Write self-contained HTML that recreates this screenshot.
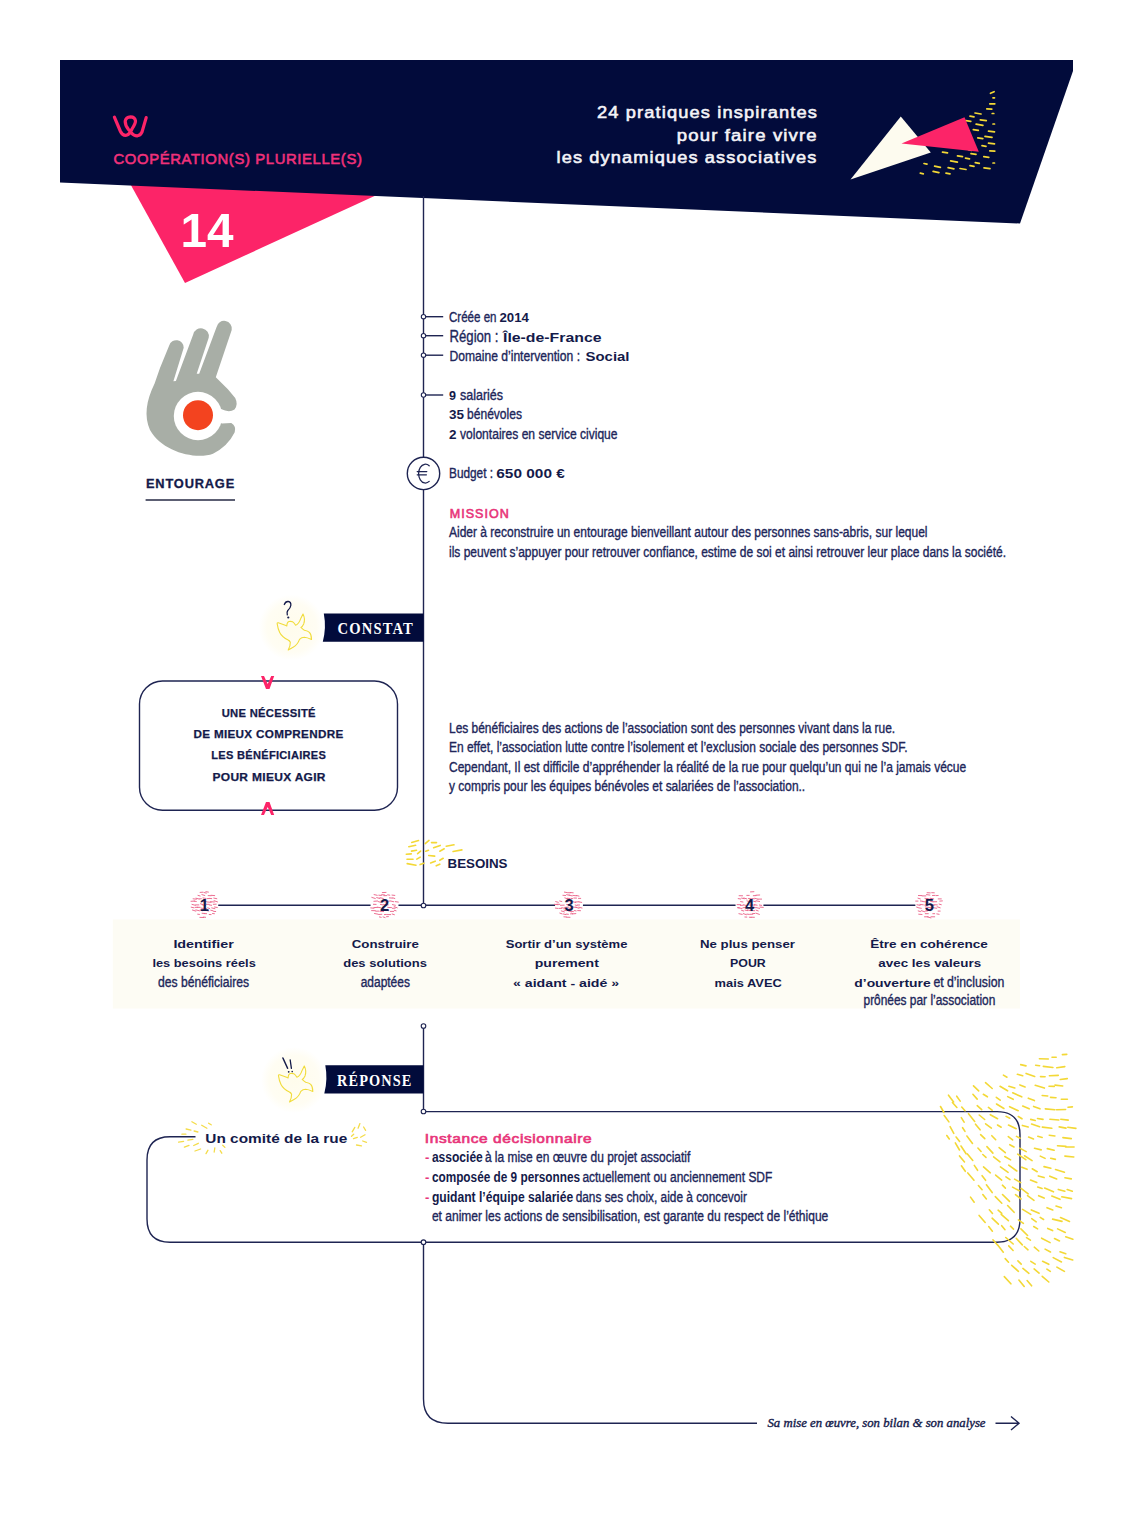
<!DOCTYPE html>
<html><head><meta charset="utf-8">
<style>
html,body{margin:0;padding:0;}
body{width:1133px;height:1536px;position:relative;overflow:hidden;background:#fff;}
svg{position:absolute;left:0;top:0;}
</style></head>
<body>
<svg width="1133" height="1536" viewBox="0 0 1133 1536">
<polygon points="127,178 392,188 185,283" fill="#fc2468"/>
<polygon points="60,60 1073,60 1073,71 1020,223.5 60,182.6" fill="#020b3b"/>
<g stroke="#f3d836" stroke-width="1.7" stroke-linecap="round"><line x1="990.5" y1="93.3" x2="994.1" y2="91.7"/><line x1="993.0" y1="97.8" x2="994.5" y2="97.8"/><line x1="989.8" y1="103.8" x2="994.8" y2="103.8"/><line x1="986.8" y1="108.8" x2="991.8" y2="109.2"/><line x1="992.2" y1="113.5" x2="993.8" y2="113.5"/><line x1="975.0" y1="113.0" x2="981.0" y2="114.0"/><line x1="970.0" y1="116.2" x2="974.0" y2="116.8"/><line x1="980.3" y1="119.9" x2="986.3" y2="120.7"/><line x1="965.8" y1="120.7" x2="970.8" y2="121.3"/><line x1="976.1" y1="124.2" x2="982.9" y2="125.4"/><line x1="993.0" y1="124.0" x2="994.5" y2="124.0"/><line x1="973.3" y1="129.6" x2="978.3" y2="130.4"/><line x1="988.5" y1="131.1" x2="994.5" y2="131.9"/><line x1="985.0" y1="136.3" x2="992.0" y2="137.3"/><line x1="977.8" y1="137.9" x2="982.8" y2="138.7"/><line x1="988.5" y1="143.1" x2="994.5" y2="143.9"/><line x1="989.8" y1="150.8" x2="994.8" y2="151.2"/><line x1="983.8" y1="156.7" x2="988.8" y2="157.3"/><line x1="971.0" y1="153.6" x2="976.0" y2="154.4"/><line x1="957.5" y1="155.9" x2="962.5" y2="156.7"/><line x1="942.5" y1="152.1" x2="947.5" y2="152.9"/><line x1="965.5" y1="158.2" x2="969.5" y2="158.8"/><line x1="975.3" y1="162.7" x2="979.3" y2="163.3"/><line x1="993.0" y1="163.0" x2="994.5" y2="163.0"/><line x1="950.6" y1="160.8" x2="957.4" y2="162.2"/><line x1="924.0" y1="163.5" x2="927.0" y2="164.1"/><line x1="934.6" y1="166.2" x2="940.4" y2="167.4"/><line x1="948.1" y1="167.7" x2="953.9" y2="168.9"/><line x1="960.0" y1="168.5" x2="966.0" y2="169.5"/><line x1="970.0" y1="165.7" x2="974.0" y2="166.3"/><line x1="984.0" y1="167.9" x2="990.0" y2="168.7"/><line x1="920.3" y1="173.2" x2="923.3" y2="173.8"/><line x1="933.1" y1="171.4" x2="938.9" y2="172.6"/><line x1="946.0" y1="173.2" x2="950.0" y2="173.8"/><line x1="982.0" y1="145.7" x2="986.0" y2="146.3"/><line x1="968.5" y1="149.7" x2="971.5" y2="150.3"/></g>
<polygon points="900.8,116.5 850.5,179.5 930.8,152.5" fill="#fdfbef"/>
<polygon points="901.5,143.5 964.5,117.3 978.8,151.8" fill="#fc2468"/>
<path d="M114.4,117.2 L120.5,131.5 Q122.5,135.8 126.5,135.2 Q129.5,134.5 132,129 Q135.5,123.5 135.5,121 Q135,116.8 130.5,116.8 Q126,117 125.2,121 Q125,125 128.5,129.5 L131.5,133 Q134,136 137.5,135.8 Q140.5,135.2 142,132 L146.2,117.6" fill="none" stroke="#fc2468" stroke-width="3.2" stroke-linecap="round" stroke-linejoin="round"/>
<g stroke="#1e2452" stroke-width="1.4" fill="none"><line x1="423.5" y1="196" x2="423.5" y2="457.2"/><line x1="423.5" y1="489.6" x2="423.5" y2="905.7"/><line x1="423.5" y1="316.7" x2="443.2" y2="316.7"/><line x1="423.5" y1="335.7" x2="443.2" y2="335.7"/><line x1="423.5" y1="355.2" x2="443.2" y2="355.2"/><line x1="423.5" y1="395" x2="443.2" y2="395"/><circle cx="423.5" cy="473.4" r="16.2"/></g>
<path d="M429.2,465.8 A6.8,9.4 0 1 0 429.2,481.4 M417.2,471.6 L426.8,471.6 M417.2,474.8 L426.4,474.8" fill="none" stroke="#1e2452" stroke-width="1.25" stroke-linecap="round"/>
<g stroke="#1e2452" stroke-width="1.1" fill="#fff"><circle cx="423.5" cy="316.7" r="2.2"/><circle cx="423.5" cy="335.7" r="2.2"/><circle cx="423.5" cy="355.2" r="2.2"/><circle cx="423.5" cy="395" r="2.2"/></g>
<path d="M154.6,383.4 L160,368 L169.2,345.5 A7.4,7.4 0 0 1 183.7,347.7 L173.4,381.2 L175.9,381 L193.2,334.6 A7.7,7.7 0 0 1 208.7,337.8 L196.7,373.8 L199.2,373.8 L216.5,327.2 A7.7,7.7 0 0 1 231.7,330 L215.8,377.3 L227.9,389.2 L235.2,398 Q238.5,404.5 234.5,409.5 Q229,413 221,409 L198,414 L222,423.4 L231.3,422.9 Q236.5,426 234.7,432.2 Q228,446 213,453.7 C196,460 162,452 150,430 C144,416 146,401 154.6,383.4 Z" fill="#a8aea6"/>
<circle cx="198" cy="416" r="24.2" fill="#fff"/>
<circle cx="198" cy="415.2" r="15" fill="#f3431f"/>
<line x1="145.6" y1="500" x2="235" y2="500" stroke="#262a44" stroke-width="1.4"/>
<defs><radialGradient id="gl"><stop offset="0" stop-color="#fffcec"/><stop offset="0.75" stop-color="#fffdf3"/><stop offset="1" stop-color="#ffffff"/></radialGradient></defs>
<circle cx="291.7" cy="627.5" r="33" fill="url(#gl)"/>
<path d="M323.8,613.6 L423.5,613.6 L423.5,641.7 L322.8,641.7 Q326.5,627.6 323.8,613.6 Z" fill="#020b3b"/>
<path d="M277.2,623.9 Q277,622.5 278.3,622.8 L283.2,624.6 Q285.5,625.6 286.8,626 Q287,622 289,621.5 Q292.5,620.8 294,623 L295.6,625.3 Q299,624 300.9,618.2 L303,614 Q305.5,619 303.7,623.9 Q302.5,626.5 300.9,627.4 Q303,629.5 304.4,630.3 Q308,631 309.4,632.4 Q311.5,634.5 311.5,639.4 Q307,637.5 304.4,637.3 Q301.5,637.3 299.5,639.4 Q297.5,645 293.1,647.2 L288.2,650 Q290.5,646 290.3,642.3 Q289.5,640.5 288.2,640.1 Q282,637 279.7,632.4 Q277.8,628.5 277.2,623.9 Z" fill="none" stroke="#f1dc3c" stroke-width="1.1" stroke-linejoin="round"/>
<path d="M284.3,604.5 Q285.5,601.3 288.2,601.5 Q291.3,602 290.8,605.5 Q290.3,608.5 287.8,610.5 Q286.6,612 287.3,614.8" fill="none" stroke="#141a4a" stroke-width="1.3" stroke-linecap="round"/><circle cx="288.3" cy="617.5" r="1.1" fill="#141a4a"/>
<rect x="139.5" y="681" width="258" height="129.3" rx="23" ry="23" fill="none" stroke="#1e2452" stroke-width="1.4"/>
<polygon points="261,676 264,676 267.7,684 271.2,676 274.2,676 269.5,689 266,689" fill="#fc2468"/>
<polygon points="261,815 264,815 267.7,807 271.2,815 274.2,815 269.5,802 266,802" fill="#fc2468"/>
<g stroke="#f3d836" stroke-width="1.6" stroke-linecap="round"><line x1="411.7" y1="842.4" x2="418.5" y2="840.6"/><line x1="408.8" y1="846.7" x2="415.6" y2="845.3"/><line x1="411.5" y1="851.1" x2="416.5" y2="850.3"/><line x1="406.3" y1="854.3" x2="411.3" y2="853.9"/><line x1="407.0" y1="859.3" x2="413.0" y2="859.3"/><line x1="407.2" y1="863.6" x2="416.0" y2="865.2"/><line x1="417.6" y1="853.7" x2="420.6" y2="851.1"/><line x1="416.8" y1="859.1" x2="420.2" y2="857.1"/><line x1="425.2" y1="843.6" x2="429.0" y2="840.4"/><line x1="425.7" y1="851.2" x2="428.5" y2="850.2"/><line x1="420.1" y1="864.6" x2="423.9" y2="863.2"/><line x1="431.5" y1="842.6" x2="436.5" y2="842.6"/><line x1="433.6" y1="847.8" x2="440.2" y2="845.4"/><line x1="428.7" y1="855.5" x2="434.7" y2="856.1"/><line x1="430.6" y1="863.0" x2="435.2" y2="861.2"/><line x1="436.2" y1="865.8" x2="439.8" y2="864.2"/><line x1="439.8" y1="851.2" x2="444.2" y2="848.8"/><line x1="439.8" y1="860.3" x2="443.2" y2="858.3"/><line x1="446.2" y1="846.2" x2="454.0" y2="844.8"/><line x1="453.1" y1="851.5" x2="461.9" y2="849.9"/></g>
<rect x="112.8" y="919.5" width="907.2" height="89" fill="#fdfcf4"/>
<line x1="204.3" y1="905.2" x2="929.3" y2="905.2" stroke="#1e2452" stroke-width="1.4"/>
<circle cx="423.5" cy="905.5" r="2.3" fill="#fff" stroke="#1e2452" stroke-width="1.1"/>
<circle cx="204.3" cy="904.7" r="14" fill="#fff"/>
<g stroke="#ea5f86" stroke-width="0.9" stroke-linecap="round"><line x1="200.1" y1="892.4" x2="202.8" y2="892.2"/><line x1="203.9" y1="892.5" x2="206.3" y2="893.1"/><line x1="205.9" y1="891.7" x2="208.4" y2="892.1"/><line x1="198.0" y1="895.4" x2="200.1" y2="896.0"/><line x1="201.9" y1="894.6" x2="204.8" y2="895.5"/><line x1="208.2" y1="895.6" x2="211.0" y2="895.7"/><line x1="211.2" y1="895.3" x2="214.7" y2="895.6"/><line x1="193.1" y1="898.8" x2="196.4" y2="899.2"/><line x1="196.0" y1="898.2" x2="199.0" y2="899.0"/><line x1="199.3" y1="898.9" x2="201.3" y2="898.7"/><line x1="203.0" y1="897.9" x2="206.0" y2="898.5"/><line x1="207.2" y1="898.6" x2="209.1" y2="898.5"/><line x1="209.4" y1="898.4" x2="211.7" y2="898.6"/><line x1="213.8" y1="898.1" x2="216.8" y2="898.7"/><line x1="191.0" y1="901.3" x2="194.5" y2="901.1"/><line x1="194.2" y1="901.1" x2="196.3" y2="901.5"/><line x1="201.2" y1="901.5" x2="203.7" y2="901.8"/><line x1="204.4" y1="901.7" x2="206.5" y2="901.7"/><line x1="207.4" y1="902.0" x2="211.1" y2="902.3"/><line x1="210.5" y1="901.7" x2="214.3" y2="902.0"/><line x1="214.1" y1="900.7" x2="217.5" y2="901.9"/><line x1="192.0" y1="904.4" x2="195.4" y2="905.3"/><line x1="195.6" y1="904.9" x2="198.9" y2="904.9"/><line x1="200.5" y1="903.8" x2="203.0" y2="904.5"/><line x1="202.1" y1="904.8" x2="205.3" y2="905.5"/><line x1="206.4" y1="904.3" x2="209.1" y2="904.3"/><line x1="209.3" y1="904.9" x2="211.6" y2="905.3"/><line x1="213.3" y1="904.3" x2="216.2" y2="904.2"/><line x1="191.2" y1="907.2" x2="193.9" y2="907.8"/><line x1="195.1" y1="907.4" x2="197.8" y2="907.2"/><line x1="197.1" y1="907.4" x2="200.1" y2="907.3"/><line x1="201.1" y1="908.1" x2="204.4" y2="908.6"/><line x1="204.2" y1="908.0" x2="206.6" y2="908.7"/><line x1="207.7" y1="907.9" x2="209.7" y2="908.5"/><line x1="211.7" y1="907.9" x2="214.9" y2="908.7"/><line x1="214.5" y1="907.0" x2="217.3" y2="907.5"/><line x1="192.4" y1="910.0" x2="195.8" y2="911.1"/><line x1="195.9" y1="909.9" x2="199.5" y2="910.8"/><line x1="200.2" y1="910.0" x2="202.3" y2="910.7"/><line x1="205.3" y1="910.3" x2="208.8" y2="911.0"/><line x1="210.7" y1="910.2" x2="213.1" y2="910.8"/><line x1="213.7" y1="911.4" x2="215.7" y2="911.5"/><line x1="197.7" y1="914.2" x2="199.5" y2="914.4"/><line x1="202.1" y1="913.3" x2="204.8" y2="913.5"/><line x1="204.3" y1="913.6" x2="206.6" y2="913.7"/><line x1="209.2" y1="914.5" x2="211.1" y2="914.6"/><line x1="212.5" y1="913.5" x2="214.4" y2="913.7"/><line x1="199.9" y1="917.4" x2="203.6" y2="917.5"/><line x1="203.3" y1="917.1" x2="205.6" y2="917.3"/></g>
<circle cx="384.5" cy="904.7" r="14" fill="#fff"/>
<g stroke="#ea5f86" stroke-width="0.9" stroke-linecap="round"><line x1="382.3" y1="892.6" x2="386.0" y2="892.4"/><line x1="374.1" y1="894.6" x2="377.2" y2="895.3"/><line x1="378.8" y1="895.2" x2="381.4" y2="895.4"/><line x1="381.7" y1="894.7" x2="384.5" y2="894.9"/><line x1="383.9" y1="895.7" x2="386.8" y2="895.6"/><line x1="387.7" y1="894.8" x2="389.8" y2="895.2"/><line x1="392.0" y1="895.1" x2="394.8" y2="895.4"/><line x1="371.8" y1="897.4" x2="375.3" y2="898.5"/><line x1="376.7" y1="897.6" x2="379.9" y2="898.5"/><line x1="380.0" y1="897.7" x2="383.3" y2="898.5"/><line x1="389.4" y1="897.9" x2="392.6" y2="898.1"/><line x1="393.0" y1="897.9" x2="394.8" y2="898.5"/><line x1="373.9" y1="901.3" x2="377.5" y2="901.0"/><line x1="378.2" y1="901.6" x2="381.1" y2="902.4"/><line x1="380.9" y1="901.1" x2="383.8" y2="901.5"/><line x1="384.4" y1="901.7" x2="387.4" y2="902.6"/><line x1="388.5" y1="901.1" x2="390.4" y2="901.0"/><line x1="391.0" y1="901.1" x2="393.6" y2="901.7"/><line x1="395.2" y1="901.6" x2="398.3" y2="902.1"/><line x1="373.4" y1="904.3" x2="376.1" y2="904.4"/><line x1="380.4" y1="904.4" x2="382.7" y2="904.9"/><line x1="383.5" y1="904.4" x2="387.1" y2="905.6"/><line x1="386.0" y1="904.4" x2="388.3" y2="904.8"/><line x1="392.4" y1="904.6" x2="395.4" y2="905.3"/><line x1="370.7" y1="907.9" x2="373.9" y2="908.2"/><line x1="373.9" y1="907.6" x2="377.3" y2="907.4"/><line x1="377.3" y1="907.2" x2="380.5" y2="907.7"/><line x1="382.2" y1="908.3" x2="384.0" y2="908.3"/><line x1="387.8" y1="907.4" x2="391.5" y2="907.6"/><line x1="392.4" y1="908.3" x2="395.2" y2="908.2"/><line x1="394.2" y1="906.7" x2="397.2" y2="907.8"/><line x1="371.6" y1="910.6" x2="375.4" y2="910.7"/><line x1="375.8" y1="911.2" x2="378.7" y2="911.1"/><line x1="379.9" y1="911.3" x2="383.6" y2="911.5"/><line x1="386.8" y1="910.4" x2="388.9" y2="910.7"/><line x1="390.4" y1="911.4" x2="393.7" y2="911.4"/><line x1="394.3" y1="910.3" x2="396.1" y2="910.8"/><line x1="374.5" y1="913.5" x2="378.1" y2="914.2"/><line x1="378.7" y1="914.5" x2="381.8" y2="914.3"/><line x1="384.4" y1="914.6" x2="386.3" y2="914.5"/><line x1="387.1" y1="914.6" x2="390.7" y2="914.6"/><line x1="392.2" y1="914.0" x2="394.4" y2="914.7"/><line x1="379.4" y1="916.9" x2="381.2" y2="917.3"/><line x1="383.1" y1="916.9" x2="385.1" y2="917.6"/><line x1="386.5" y1="916.7" x2="388.4" y2="916.6"/></g>
<circle cx="569" cy="904.7" r="14" fill="#fff"/>
<g stroke="#ea5f86" stroke-width="0.9" stroke-linecap="round"><line x1="564.4" y1="892.1" x2="567.2" y2="892.6"/><line x1="567.8" y1="892.7" x2="570.3" y2="892.8"/><line x1="570.2" y1="892.5" x2="573.2" y2="892.8"/><line x1="562.9" y1="895.3" x2="565.6" y2="895.5"/><line x1="566.6" y1="894.7" x2="569.5" y2="895.3"/><line x1="569.1" y1="895.0" x2="572.1" y2="895.9"/><line x1="572.8" y1="895.4" x2="576.5" y2="895.8"/><line x1="576.5" y1="895.5" x2="579.0" y2="896.1"/><line x1="564.8" y1="897.9" x2="567.8" y2="898.9"/><line x1="567.4" y1="898.3" x2="569.6" y2="898.5"/><line x1="570.8" y1="898.4" x2="572.7" y2="898.6"/><line x1="573.9" y1="898.0" x2="576.5" y2="898.1"/><line x1="578.5" y1="898.4" x2="580.7" y2="898.4"/><line x1="555.7" y1="901.6" x2="558.3" y2="902.3"/><line x1="559.7" y1="901.0" x2="561.8" y2="901.5"/><line x1="566.9" y1="901.6" x2="569.2" y2="901.6"/><line x1="573.1" y1="901.8" x2="575.8" y2="902.5"/><line x1="575.3" y1="902.0" x2="578.9" y2="901.8"/><line x1="579.0" y1="901.9" x2="581.7" y2="902.4"/><line x1="554.4" y1="904.3" x2="558.0" y2="904.7"/><line x1="556.9" y1="904.2" x2="559.8" y2="904.3"/><line x1="560.5" y1="905.3" x2="564.2" y2="905.1"/><line x1="566.7" y1="904.5" x2="569.6" y2="904.9"/><line x1="575.2" y1="905.0" x2="577.1" y2="905.5"/><line x1="577.4" y1="905.0" x2="579.6" y2="905.0"/><line x1="555.4" y1="908.1" x2="557.8" y2="908.4"/><line x1="558.9" y1="908.4" x2="561.6" y2="908.4"/><line x1="561.8" y1="907.7" x2="564.6" y2="908.3"/><line x1="564.7" y1="907.4" x2="568.4" y2="907.1"/><line x1="568.7" y1="908.1" x2="572.5" y2="908.7"/><line x1="573.2" y1="907.1" x2="576.7" y2="907.4"/><line x1="575.8" y1="907.2" x2="579.0" y2="908.3"/><line x1="578.8" y1="907.2" x2="582.0" y2="908.0"/><line x1="561.3" y1="910.9" x2="564.4" y2="911.9"/><line x1="564.0" y1="910.1" x2="566.2" y2="910.6"/><line x1="567.8" y1="910.7" x2="571.4" y2="911.9"/><line x1="571.2" y1="911.2" x2="573.4" y2="911.6"/><line x1="574.3" y1="910.6" x2="576.1" y2="910.9"/><line x1="577.7" y1="910.6" x2="580.5" y2="910.7"/><line x1="559.8" y1="913.1" x2="562.2" y2="913.9"/><line x1="563.4" y1="914.0" x2="565.8" y2="914.6"/><line x1="566.2" y1="914.1" x2="568.4" y2="914.3"/><line x1="570.5" y1="913.9" x2="572.6" y2="913.7"/><line x1="572.4" y1="913.9" x2="575.8" y2="913.6"/><line x1="563.9" y1="916.8" x2="566.4" y2="917.0"/><line x1="566.6" y1="917.2" x2="570.0" y2="917.3"/></g>
<circle cx="749.5" cy="904.7" r="14" fill="#fff"/>
<g stroke="#ea5f86" stroke-width="0.9" stroke-linecap="round"><line x1="750.5" y1="891.9" x2="753.9" y2="891.7"/><line x1="739.1" y1="895.7" x2="742.6" y2="895.8"/><line x1="746.8" y1="895.4" x2="749.2" y2="895.4"/><line x1="753.3" y1="895.7" x2="756.0" y2="895.6"/><line x1="756.0" y1="895.2" x2="759.7" y2="895.0"/><line x1="738.2" y1="898.6" x2="740.6" y2="899.0"/><line x1="741.6" y1="898.1" x2="744.2" y2="898.7"/><line x1="743.8" y1="898.0" x2="746.8" y2="898.9"/><line x1="748.5" y1="898.5" x2="750.7" y2="898.7"/><line x1="751.7" y1="898.6" x2="754.4" y2="898.8"/><line x1="754.9" y1="898.3" x2="757.9" y2="899.2"/><line x1="757.9" y1="899.1" x2="761.6" y2="899.1"/><line x1="740.6" y1="901.6" x2="743.0" y2="902.0"/><line x1="746.9" y1="900.9" x2="749.2" y2="901.5"/><line x1="749.6" y1="901.8" x2="752.0" y2="901.9"/><line x1="753.5" y1="901.2" x2="755.8" y2="901.8"/><line x1="756.1" y1="900.8" x2="759.6" y2="901.5"/><line x1="737.1" y1="904.6" x2="740.6" y2="904.7"/><line x1="740.4" y1="905.4" x2="743.3" y2="905.2"/><line x1="743.6" y1="904.8" x2="747.0" y2="905.7"/><line x1="748.8" y1="904.9" x2="751.1" y2="905.2"/><line x1="751.9" y1="904.9" x2="754.9" y2="905.2"/><line x1="754.4" y1="904.6" x2="757.1" y2="905.2"/><line x1="759.4" y1="905.0" x2="761.7" y2="905.4"/><line x1="737.4" y1="907.7" x2="739.3" y2="907.8"/><line x1="738.3" y1="907.8" x2="742.0" y2="908.5"/><line x1="743.0" y1="907.7" x2="745.2" y2="907.6"/><line x1="746.5" y1="907.5" x2="749.7" y2="907.6"/><line x1="749.5" y1="907.7" x2="752.7" y2="907.5"/><line x1="753.3" y1="906.9" x2="755.6" y2="907.7"/><line x1="756.3" y1="907.6" x2="759.6" y2="908.4"/><line x1="760.0" y1="907.1" x2="763.3" y2="907.4"/><line x1="741.5" y1="910.3" x2="743.7" y2="911.0"/><line x1="745.0" y1="910.1" x2="747.7" y2="910.6"/><line x1="747.5" y1="909.9" x2="751.0" y2="910.7"/><line x1="752.4" y1="910.6" x2="754.6" y2="910.7"/><line x1="756.1" y1="910.2" x2="758.2" y2="910.9"/><line x1="738.9" y1="913.7" x2="742.2" y2="914.4"/><line x1="743.3" y1="913.6" x2="746.4" y2="914.7"/><line x1="747.0" y1="914.1" x2="749.1" y2="914.4"/><line x1="749.9" y1="914.3" x2="752.8" y2="914.2"/><line x1="752.6" y1="913.6" x2="754.9" y2="913.5"/><line x1="756.0" y1="913.2" x2="759.4" y2="914.4"/><line x1="744.9" y1="917.0" x2="746.8" y2="917.1"/><line x1="749.3" y1="917.2" x2="751.2" y2="917.4"/><line x1="751.0" y1="917.2" x2="754.4" y2="917.3"/></g>
<circle cx="929.3" cy="904.7" r="14" fill="#fff"/>
<g stroke="#ea5f86" stroke-width="0.9" stroke-linecap="round"><line x1="927.1" y1="892.7" x2="930.3" y2="892.9"/><line x1="931.7" y1="892.7" x2="934.3" y2="892.8"/><line x1="918.4" y1="895.5" x2="921.8" y2="895.6"/><line x1="922.2" y1="895.9" x2="925.9" y2="895.9"/><line x1="926.5" y1="894.6" x2="929.9" y2="895.1"/><line x1="932.5" y1="895.5" x2="935.1" y2="895.4"/><line x1="936.1" y1="895.6" x2="938.2" y2="895.5"/><line x1="918.0" y1="898.2" x2="920.3" y2="898.9"/><line x1="924.9" y1="898.3" x2="928.1" y2="898.8"/><line x1="927.1" y1="898.8" x2="929.8" y2="899.2"/><line x1="930.3" y1="898.3" x2="933.7" y2="898.9"/><line x1="938.2" y1="898.9" x2="941.3" y2="898.9"/><line x1="915.7" y1="901.1" x2="918.0" y2="901.1"/><line x1="920.4" y1="901.0" x2="922.3" y2="901.2"/><line x1="922.6" y1="901.5" x2="924.8" y2="901.8"/><line x1="925.5" y1="901.9" x2="928.1" y2="902.3"/><line x1="930.7" y1="901.5" x2="932.9" y2="901.7"/><line x1="933.1" y1="901.8" x2="936.7" y2="901.7"/><line x1="939.8" y1="901.1" x2="942.4" y2="900.9"/><line x1="917.0" y1="904.7" x2="920.1" y2="905.4"/><line x1="919.9" y1="904.4" x2="923.3" y2="904.8"/><line x1="924.7" y1="905.1" x2="926.6" y2="905.0"/><line x1="927.7" y1="904.0" x2="930.2" y2="904.9"/><line x1="931.9" y1="905.1" x2="934.1" y2="905.4"/><line x1="933.7" y1="904.7" x2="937.3" y2="904.9"/><line x1="939.1" y1="904.1" x2="941.3" y2="904.7"/><line x1="916.6" y1="907.1" x2="918.4" y2="907.7"/><line x1="919.0" y1="907.9" x2="921.3" y2="908.3"/><line x1="925.3" y1="906.9" x2="929.1" y2="907.5"/><line x1="929.0" y1="907.6" x2="931.3" y2="907.8"/><line x1="933.0" y1="907.7" x2="936.7" y2="908.2"/><line x1="937.2" y1="906.8" x2="940.2" y2="907.8"/><line x1="918.2" y1="910.9" x2="920.5" y2="911.6"/><line x1="921.3" y1="910.7" x2="924.8" y2="911.8"/><line x1="925.4" y1="911.0" x2="927.5" y2="910.9"/><line x1="926.6" y1="910.1" x2="930.2" y2="910.7"/><line x1="938.1" y1="911.1" x2="940.2" y2="911.1"/><line x1="918.7" y1="914.2" x2="922.0" y2="914.5"/><line x1="925.3" y1="913.7" x2="928.3" y2="913.7"/><line x1="932.8" y1="913.7" x2="934.7" y2="913.7"/><line x1="936.8" y1="913.9" x2="939.1" y2="914.3"/><line x1="924.5" y1="916.8" x2="928.1" y2="916.8"/><line x1="927.6" y1="916.9" x2="930.9" y2="917.9"/><line x1="931.0" y1="916.8" x2="934.7" y2="916.8"/></g>
<g stroke="#1e2452" stroke-width="1.4" fill="none"><line x1="423.5" y1="1026" x2="423.5" y2="1111.4"/><path d="M195.5,1136.8 L170,1136.8 Q147,1136.8 147,1160 L147,1219 Q147,1242.2 170,1242.2 L997,1242.2 Q1020,1242.2 1020,1219 L1020,1135 Q1020,1111.6 997,1111.6 L423.5,1111.6"/><path d="M423.5,1242.2 L423.5,1399 Q423.5,1423.3 448,1423.3 L757,1423.3"/><path d="M995.5,1423.3 L1019,1423.3 M1011,1416.5 L1019,1423.3 L1011,1430"/></g>
<g stroke="#1e2452" stroke-width="1.1" fill="#fff"><circle cx="423.5" cy="1026" r="2.3"/><circle cx="423.5" cy="1111.5" r="2.3"/><circle cx="423.5" cy="1242.2" r="2.3"/></g>
<circle cx="294" cy="1080" r="33" fill="url(#gl)"/>
<path d="M325.3,1065.3 L423.5,1065.3 L423.5,1093.6 L324.3,1093.6 Q328,1079.5 325.3,1065.3 Z" fill="#020b3b"/>
<path d="M277.2,623.9 Q277,622.5 278.3,622.8 L283.2,624.6 Q285.5,625.6 286.8,626 Q287,622 289,621.5 Q292.5,620.8 294,623 L295.6,625.3 Q299,624 300.9,618.2 L303,614 Q305.5,619 303.7,623.9 Q302.5,626.5 300.9,627.4 Q303,629.5 304.4,630.3 Q308,631 309.4,632.4 Q311.5,634.5 311.5,639.4 Q307,637.5 304.4,637.3 Q301.5,637.3 299.5,639.4 Q297.5,645 293.1,647.2 L288.2,650 Q290.5,646 290.3,642.3 Q289.5,640.5 288.2,640.1 Q282,637 279.7,632.4 Q277.8,628.5 277.2,623.9 Z" transform="translate(1.3,452)" fill="none" stroke="#f1dc3c" stroke-width="1.1" stroke-linejoin="round"/>
<g stroke="#141a4a" stroke-linecap="round"><line x1="282.9" y1="1058" x2="287.6" y2="1068.3" stroke-width="1.5"/><line x1="290.2" y1="1060" x2="291.4" y2="1068.3" stroke-width="1.3"/></g><circle cx="288.7" cy="1071.8" r="0.9" fill="#141a4a"/><circle cx="292.2" cy="1071.6" r="0.8" fill="#141a4a"/>
<g stroke="#f4dc4a" stroke-width="1.3" stroke-linecap="round"><line x1="191.9" y1="1121.8" x2="196.3" y2="1124.3"/><line x1="201.7" y1="1125.3" x2="206.9" y2="1128.3"/><line x1="186.1" y1="1129.0" x2="190.9" y2="1130.2"/><line x1="194.1" y1="1131.0" x2="197.9" y2="1132.0"/><line x1="181.9" y1="1134.2" x2="185.9" y2="1134.2"/><line x1="178.6" y1="1142.1" x2="183.6" y2="1141.3"/><line x1="187.9" y1="1140.2" x2="192.9" y2="1139.4"/><line x1="184.4" y1="1147.2" x2="189.0" y2="1145.4"/><line x1="193.7" y1="1145.5" x2="198.3" y2="1143.3"/><line x1="195.0" y1="1151.0" x2="200.6" y2="1149.0"/><line x1="206.0" y1="1153.6" x2="208.0" y2="1150.2"/><line x1="214.2" y1="1152.0" x2="214.8" y2="1148.0"/><line x1="220.2" y1="1150.6" x2="221.8" y2="1153.2"/><line x1="222.7" y1="1145.2" x2="224.9" y2="1147.4"/><line x1="208.6" y1="1123.2" x2="211.2" y2="1124.8"/><line x1="352.2" y1="1131.8" x2="354.8" y2="1127.4"/><line x1="358.1" y1="1128.2" x2="359.9" y2="1123.6"/><line x1="363.6" y1="1127.0" x2="365.6" y2="1130.4"/><line x1="360.6" y1="1137.3" x2="365.0" y2="1134.8"/><line x1="353.5" y1="1138.7" x2="357.3" y2="1137.3"/><line x1="362.7" y1="1141.0" x2="366.5" y2="1142.4"/><line x1="356.5" y1="1145.0" x2="361.5" y2="1145.8"/><line x1="351.5" y1="1136.2" x2="353.7" y2="1134.2"/></g>
<g stroke="#f3d836" stroke-width="1.6" stroke-linecap="round"><line x1="1039.4" y1="1058.8" x2="1048.3" y2="1059.0"/><line x1="1052.0" y1="1057.3" x2="1056.2" y2="1057.2"/><line x1="1062.4" y1="1054.6" x2="1066.8" y2="1054.4"/><line x1="1020.7" y1="1064.6" x2="1026.0" y2="1065.9"/><line x1="1035.6" y1="1065.2" x2="1039.6" y2="1065.7"/><line x1="1043.3" y1="1066.4" x2="1052.9" y2="1067.5"/><line x1="1056.8" y1="1067.8" x2="1064.8" y2="1066.6"/><line x1="1003.4" y1="1075.1" x2="1007.0" y2="1077.2"/><line x1="1017.4" y1="1074.3" x2="1022.7" y2="1075.8"/><line x1="1026.1" y1="1073.4" x2="1034.7" y2="1076.5"/><line x1="1040.5" y1="1076.6" x2="1045.1" y2="1076.8"/><line x1="1049.4" y1="1075.8" x2="1058.3" y2="1075.4"/><line x1="1060.2" y1="1079.5" x2="1067.3" y2="1078.6"/><line x1="973.5" y1="1085.9" x2="978.7" y2="1090.9"/><line x1="985.5" y1="1082.7" x2="992.2" y2="1088.5"/><line x1="1000.0" y1="1086.3" x2="1007.6" y2="1090.8"/><line x1="1008.9" y1="1086.2" x2="1014.8" y2="1088.0"/><line x1="1019.9" y1="1084.9" x2="1025.1" y2="1086.9"/><line x1="1035.2" y1="1085.3" x2="1044.4" y2="1088.1"/><line x1="1049.0" y1="1086.3" x2="1054.3" y2="1086.4"/><line x1="1055.0" y1="1085.1" x2="1062.7" y2="1086.0"/><line x1="948.5" y1="1095.2" x2="953.6" y2="1102.0"/><line x1="956.7" y1="1096.2" x2="960.2" y2="1101.1"/><line x1="972.9" y1="1094.3" x2="977.2" y2="1099.1"/><line x1="983.3" y1="1094.3" x2="987.4" y2="1096.8"/><line x1="996.3" y1="1097.3" x2="1000.2" y2="1100.2"/><line x1="1007.7" y1="1096.6" x2="1013.2" y2="1099.3"/><line x1="1012.7" y1="1092.8" x2="1021.7" y2="1096.8"/><line x1="1028.3" y1="1098.2" x2="1034.4" y2="1100.6"/><line x1="1042.2" y1="1095.5" x2="1047.7" y2="1096.0"/><line x1="1050.5" y1="1097.4" x2="1056.0" y2="1097.8"/><line x1="1061.3" y1="1099.3" x2="1067.4" y2="1099.2"/><line x1="940.5" y1="1106.5" x2="944.0" y2="1112.5"/><line x1="952.4" y1="1102.5" x2="956.9" y2="1107.5"/><line x1="961.7" y1="1107.0" x2="965.0" y2="1110.8"/><line x1="977.2" y1="1105.7" x2="981.7" y2="1109.7"/><line x1="988.4" y1="1107.4" x2="992.1" y2="1110.2"/><line x1="996.5" y1="1104.0" x2="1003.9" y2="1108.5"/><line x1="1009.6" y1="1106.7" x2="1018.2" y2="1110.7"/><line x1="1022.7" y1="1106.1" x2="1029.2" y2="1108.8"/><line x1="1033.6" y1="1106.4" x2="1040.0" y2="1108.8"/><line x1="1045.3" y1="1108.9" x2="1054.9" y2="1109.7"/><line x1="1056.5" y1="1109.8" x2="1065.6" y2="1109.5"/><line x1="1068.0" y1="1107.3" x2="1072.4" y2="1106.9"/><line x1="944.2" y1="1115.5" x2="948.9" y2="1121.9"/><line x1="961.3" y1="1117.7" x2="964.1" y2="1122.2"/><line x1="968.5" y1="1113.7" x2="974.7" y2="1121.4"/><line x1="979.2" y1="1115.0" x2="984.7" y2="1119.5"/><line x1="990.3" y1="1114.7" x2="997.6" y2="1118.7"/><line x1="1006.1" y1="1116.4" x2="1009.8" y2="1118.2"/><line x1="1018.3" y1="1116.5" x2="1022.0" y2="1118.8"/><line x1="1030.7" y1="1119.4" x2="1035.2" y2="1120.5"/><line x1="1037.5" y1="1118.5" x2="1043.0" y2="1119.4"/><line x1="1049.9" y1="1119.3" x2="1058.8" y2="1120.0"/><line x1="1060.8" y1="1119.3" x2="1068.2" y2="1120.1"/><line x1="950.1" y1="1126.6" x2="953.8" y2="1133.4"/><line x1="962.6" y1="1127.7" x2="965.0" y2="1131.4"/><line x1="975.5" y1="1124.2" x2="980.1" y2="1129.8"/><line x1="985.6" y1="1123.8" x2="991.4" y2="1128.1"/><line x1="997.5" y1="1125.0" x2="1001.2" y2="1127.2"/><line x1="1008.5" y1="1125.0" x2="1016.2" y2="1128.7"/><line x1="1022.4" y1="1125.4" x2="1028.2" y2="1127.0"/><line x1="1031.6" y1="1124.1" x2="1039.6" y2="1126.7"/><line x1="1042.3" y1="1127.1" x2="1051.8" y2="1128.3"/><line x1="1059.2" y1="1126.9" x2="1066.0" y2="1128.1"/><line x1="1067.8" y1="1127.3" x2="1075.9" y2="1128.4"/><line x1="946.8" y1="1135.5" x2="949.3" y2="1139.0"/><line x1="956.1" y1="1137.0" x2="959.6" y2="1141.4"/><line x1="966.9" y1="1136.0" x2="972.5" y2="1143.4"/><line x1="980.6" y1="1134.7" x2="984.8" y2="1138.7"/><line x1="991.8" y1="1135.7" x2="995.7" y2="1139.7"/><line x1="1008.3" y1="1136.6" x2="1012.6" y2="1139.9"/><line x1="1016.5" y1="1136.4" x2="1020.1" y2="1138.2"/><line x1="1028.6" y1="1137.1" x2="1033.5" y2="1139.0"/><line x1="1037.8" y1="1136.2" x2="1042.2" y2="1137.4"/><line x1="1049.2" y1="1135.2" x2="1054.9" y2="1136.0"/><line x1="1062.9" y1="1137.6" x2="1071.3" y2="1138.6"/><line x1="955.3" y1="1142.9" x2="959.5" y2="1150.0"/><line x1="961.0" y1="1146.0" x2="966.1" y2="1153.8"/><line x1="977.9" y1="1148.0" x2="981.1" y2="1151.5"/><line x1="986.9" y1="1146.6" x2="992.9" y2="1153.1"/><line x1="999.1" y1="1147.6" x2="1005.3" y2="1152.7"/><line x1="1009.8" y1="1144.7" x2="1014.0" y2="1147.0"/><line x1="1019.7" y1="1148.1" x2="1026.2" y2="1151.6"/><line x1="1034.5" y1="1148.3" x2="1041.2" y2="1149.9"/><line x1="1047.3" y1="1148.6" x2="1054.1" y2="1150.3"/><line x1="1057.5" y1="1145.7" x2="1065.9" y2="1146.4"/><line x1="1065.8" y1="1147.0" x2="1074.1" y2="1147.0"/><line x1="959.5" y1="1155.9" x2="964.5" y2="1162.0"/><line x1="967.4" y1="1153.9" x2="972.8" y2="1160.4"/><line x1="982.8" y1="1154.5" x2="986.0" y2="1157.4"/><line x1="993.6" y1="1156.9" x2="1000.0" y2="1161.8"/><line x1="1004.8" y1="1156.5" x2="1010.6" y2="1159.9"/><line x1="1017.7" y1="1154.1" x2="1025.8" y2="1159.7"/><line x1="1024.5" y1="1155.8" x2="1032.1" y2="1160.6"/><line x1="1040.3" y1="1156.1" x2="1045.1" y2="1158.4"/><line x1="1050.7" y1="1158.2" x2="1055.4" y2="1159.4"/><line x1="1064.9" y1="1156.1" x2="1073.8" y2="1157.0"/><line x1="961.4" y1="1165.8" x2="965.3" y2="1171.3"/><line x1="974.3" y1="1165.4" x2="977.6" y2="1170.3"/><line x1="983.5" y1="1166.9" x2="990.3" y2="1172.8"/><line x1="1000.4" y1="1166.9" x2="1008.1" y2="1172.4"/><line x1="1008.7" y1="1165.2" x2="1016.8" y2="1171.0"/><line x1="1021.9" y1="1167.2" x2="1027.1" y2="1169.3"/><line x1="1032.2" y1="1168.8" x2="1037.2" y2="1171.7"/><line x1="1044.0" y1="1166.6" x2="1050.8" y2="1168.3"/><line x1="1055.5" y1="1169.5" x2="1064.4" y2="1172.2"/><line x1="967.8" y1="1172.9" x2="974.0" y2="1180.2"/><line x1="982.1" y1="1175.7" x2="985.6" y2="1180.3"/><line x1="995.6" y1="1175.1" x2="1001.7" y2="1180.1"/><line x1="1005.9" y1="1176.9" x2="1010.0" y2="1179.6"/><line x1="1014.6" y1="1179.1" x2="1020.7" y2="1182.6"/><line x1="1030.5" y1="1180.1" x2="1036.8" y2="1182.5"/><line x1="1038.3" y1="1175.9" x2="1044.1" y2="1177.6"/><line x1="1049.8" y1="1176.2" x2="1056.7" y2="1179.0"/><line x1="1064.9" y1="1177.8" x2="1071.3" y2="1178.9"/><line x1="978.4" y1="1185.5" x2="982.1" y2="1189.7"/><line x1="986.4" y1="1184.8" x2="992.2" y2="1192.6"/><line x1="1002.4" y1="1185.2" x2="1005.4" y2="1188.1"/><line x1="1012.6" y1="1187.1" x2="1019.2" y2="1190.7"/><line x1="1021.1" y1="1188.4" x2="1028.2" y2="1193.8"/><line x1="1037.7" y1="1187.0" x2="1042.1" y2="1188.5"/><line x1="1044.6" y1="1188.0" x2="1053.5" y2="1191.8"/><line x1="1058.3" y1="1189.4" x2="1064.8" y2="1191.2"/><line x1="1067.2" y1="1189.6" x2="1072.3" y2="1191.2"/><line x1="970.5" y1="1197.1" x2="974.2" y2="1202.2"/><line x1="982.8" y1="1194.5" x2="986.4" y2="1199.0"/><line x1="995.3" y1="1196.6" x2="1001.8" y2="1203.2"/><line x1="1002.5" y1="1194.5" x2="1009.5" y2="1201.4"/><line x1="1015.5" y1="1194.7" x2="1021.0" y2="1199.0"/><line x1="1027.5" y1="1195.6" x2="1034.0" y2="1200.3"/><line x1="1038.6" y1="1195.7" x2="1044.1" y2="1198.1"/><line x1="1051.8" y1="1196.1" x2="1060.0" y2="1199.3"/><line x1="1061.8" y1="1196.8" x2="1071.5" y2="1198.6"/><line x1="989.3" y1="1209.8" x2="992.5" y2="1213.5"/><line x1="998.1" y1="1210.2" x2="1001.8" y2="1213.3"/><line x1="1007.6" y1="1205.5" x2="1014.1" y2="1212.3"/><line x1="1022.6" y1="1209.4" x2="1030.8" y2="1214.4"/><line x1="1031.3" y1="1209.9" x2="1039.1" y2="1213.3"/><line x1="1047.0" y1="1207.7" x2="1052.8" y2="1209.9"/><line x1="1056.0" y1="1206.1" x2="1061.4" y2="1207.7"/><line x1="979.1" y1="1215.4" x2="985.2" y2="1222.5"/><line x1="992.1" y1="1218.2" x2="998.4" y2="1224.1"/><line x1="1001.2" y1="1214.3" x2="1008.4" y2="1220.6"/><line x1="1018.4" y1="1219.9" x2="1023.4" y2="1223.3"/><line x1="1031.7" y1="1218.6" x2="1036.2" y2="1221.8"/><line x1="1040.2" y1="1217.4" x2="1043.6" y2="1219.5"/><line x1="1052.6" y1="1219.1" x2="1062.0" y2="1221.4"/><line x1="1060.5" y1="1217.6" x2="1069.5" y2="1221.4"/><line x1="988.7" y1="1226.6" x2="992.4" y2="1231.2"/><line x1="1001.7" y1="1225.7" x2="1005.0" y2="1229.7"/><line x1="1010.5" y1="1226.2" x2="1013.5" y2="1229.1"/><line x1="1020.9" y1="1228.9" x2="1027.6" y2="1235.5"/><line x1="1033.7" y1="1226.5" x2="1037.6" y2="1228.9"/><line x1="1047.7" y1="1228.4" x2="1052.6" y2="1230.6"/><line x1="1057.6" y1="1228.9" x2="1065.3" y2="1232.5"/><line x1="992.9" y1="1239.8" x2="997.5" y2="1245.1"/><line x1="1005.7" y1="1237.5" x2="1013.2" y2="1244.0"/><line x1="1016.2" y1="1238.3" x2="1022.3" y2="1244.9"/><line x1="1026.5" y1="1237.7" x2="1030.4" y2="1240.2"/><line x1="1041.6" y1="1238.2" x2="1050.1" y2="1242.6"/><line x1="1054.5" y1="1238.5" x2="1059.5" y2="1241.0"/><line x1="1065.7" y1="1236.8" x2="1072.9" y2="1239.3"/><line x1="997.9" y1="1245.3" x2="1003.3" y2="1252.2"/><line x1="1008.7" y1="1245.9" x2="1013.1" y2="1250.5"/><line x1="1024.3" y1="1246.5" x2="1028.0" y2="1249.8"/><line x1="1034.3" y1="1247.2" x2="1038.8" y2="1251.0"/><line x1="1045.1" y1="1249.1" x2="1050.5" y2="1252.0"/><line x1="1060.0" y1="1251.7" x2="1065.8" y2="1253.7"/><line x1="1005.2" y1="1258.6" x2="1008.5" y2="1262.2"/><line x1="1017.9" y1="1260.9" x2="1021.2" y2="1264.1"/><line x1="1030.8" y1="1261.3" x2="1035.2" y2="1264.1"/><line x1="1042.6" y1="1261.3" x2="1048.8" y2="1264.3"/><line x1="1053.2" y1="1257.6" x2="1061.5" y2="1262.0"/><line x1="1064.4" y1="1257.4" x2="1072.7" y2="1260.0"/><line x1="1011.7" y1="1265.3" x2="1018.4" y2="1271.3"/><line x1="1022.9" y1="1268.4" x2="1028.9" y2="1273.3"/><line x1="1034.1" y1="1268.9" x2="1039.1" y2="1273.1"/><line x1="1046.9" y1="1269.2" x2="1050.3" y2="1271.4"/><line x1="1056.9" y1="1267.1" x2="1064.4" y2="1271.4"/><line x1="1004.3" y1="1276.6" x2="1010.9" y2="1283.8"/><line x1="1018.9" y1="1280.0" x2="1024.2" y2="1286.5"/><line x1="1027.1" y1="1280.6" x2="1031.6" y2="1285.8"/><line x1="1042.2" y1="1276.3" x2="1048.8" y2="1282.0"/></g>
<text x="113.5" y="164.3" font-family="Liberation Sans" font-size="14" font-weight="normal" font-style="normal" fill="#f0317a" text-anchor="start" textLength="249" lengthAdjust="spacingAndGlyphs" stroke="#f0317a" stroke-width="0.55" letter-spacing="0.6">COOPÉRATION(S) PLURIELLE(S)</text>
<text x="597" y="117.7" font-family="Liberation Sans" font-size="16" font-weight="normal" font-style="normal" fill="#f4f4f8" text-anchor="start" textLength="221" lengthAdjust="spacingAndGlyphs" stroke="#f4f4f8" stroke-width="0.55" letter-spacing="1">24 pratiques inspirantes</text>
<text x="676.8" y="140.7" font-family="Liberation Sans" font-size="16" font-weight="normal" font-style="normal" fill="#f4f4f8" text-anchor="start" textLength="141" lengthAdjust="spacingAndGlyphs" stroke="#f4f4f8" stroke-width="0.55" letter-spacing="1">pour faire vivre</text>
<text x="556.5" y="163" font-family="Liberation Sans" font-size="16" font-weight="normal" font-style="normal" fill="#f4f4f8" text-anchor="start" textLength="261" lengthAdjust="spacingAndGlyphs" stroke="#f4f4f8" stroke-width="0.55" letter-spacing="1">les dynamiques associatives</text>
<text x="180.5" y="247.4" font-family="Liberation Sans" font-size="49" font-weight="bold" font-style="normal" fill="#fff" text-anchor="start" textLength="53" lengthAdjust="spacingAndGlyphs">14</text>
<text x="146" y="488" font-family="Liberation Sans" font-size="12.5" font-weight="bold" font-style="normal" fill="#141a4a" text-anchor="start" textLength="89" lengthAdjust="spacingAndGlyphs" stroke="#141a4a" stroke-width="0.3" letter-spacing="0.8">ENTOURAGE</text>
<text x="449" y="321.8" font-family="Liberation Sans" font-size="14" font-weight="normal" font-style="normal" fill="#20265a" text-anchor="start" textLength="47.5" lengthAdjust="spacingAndGlyphs" stroke="#20265a" stroke-width="0.35">Créée en</text>
<text x="499.5" y="321.8" font-family="Liberation Sans" font-size="12.5" font-weight="bold" font-style="normal" fill="#141a4a" text-anchor="start" textLength="29.5" lengthAdjust="spacingAndGlyphs">2014</text>
<text x="449.5" y="342" font-family="Liberation Sans" font-size="16" font-weight="normal" font-style="normal" fill="#20265a" text-anchor="start" textLength="49" lengthAdjust="spacingAndGlyphs" stroke="#20265a" stroke-width="0.35">Région :</text>
<text x="503" y="342" font-family="Liberation Sans" font-size="12.5" font-weight="bold" font-style="normal" fill="#141a4a" text-anchor="start" textLength="98.5" lengthAdjust="spacingAndGlyphs">Île-de-France</text>
<text x="449.5" y="361" font-family="Liberation Sans" font-size="14" font-weight="normal" font-style="normal" fill="#20265a" text-anchor="start" textLength="130.5" lengthAdjust="spacingAndGlyphs" stroke="#20265a" stroke-width="0.35">Domaine d’intervention :</text>
<text x="585.5" y="361" font-family="Liberation Sans" font-size="12.5" font-weight="bold" font-style="normal" fill="#141a4a" text-anchor="start" textLength="44" lengthAdjust="spacingAndGlyphs">Social</text>
<text x="449" y="400" font-family="Liberation Sans" font-size="12.5" font-weight="bold" font-style="normal" fill="#141a4a" text-anchor="start" textLength="7" lengthAdjust="spacingAndGlyphs">9</text>
<text x="460" y="400" font-family="Liberation Sans" font-size="14" font-weight="normal" font-style="normal" fill="#20265a" text-anchor="start" textLength="43" lengthAdjust="spacingAndGlyphs" stroke="#20265a" stroke-width="0.35">salariés</text>
<text x="449" y="419.4" font-family="Liberation Sans" font-size="12.5" font-weight="bold" font-style="normal" fill="#141a4a" text-anchor="start" textLength="15" lengthAdjust="spacingAndGlyphs">35</text>
<text x="467" y="419.4" font-family="Liberation Sans" font-size="14" font-weight="normal" font-style="normal" fill="#20265a" text-anchor="start" textLength="55" lengthAdjust="spacingAndGlyphs" stroke="#20265a" stroke-width="0.35">bénévoles</text>
<text x="449" y="438.8" font-family="Liberation Sans" font-size="12.5" font-weight="bold" font-style="normal" fill="#141a4a" text-anchor="start" textLength="7.5" lengthAdjust="spacingAndGlyphs">2</text>
<text x="460" y="438.8" font-family="Liberation Sans" font-size="14" font-weight="normal" font-style="normal" fill="#20265a" text-anchor="start" textLength="157.5" lengthAdjust="spacingAndGlyphs" stroke="#20265a" stroke-width="0.35">volontaires en service civique</text>
<text x="449" y="477.7" font-family="Liberation Sans" font-size="14" font-weight="normal" font-style="normal" fill="#20265a" text-anchor="start" textLength="44" lengthAdjust="spacingAndGlyphs" stroke="#20265a" stroke-width="0.35">Budget :</text>
<text x="496.3" y="477.7" font-family="Liberation Sans" font-size="12.5" font-weight="bold" font-style="normal" fill="#141a4a" text-anchor="start" textLength="68.5" lengthAdjust="spacingAndGlyphs">650 000 €</text>
<text x="449.8" y="518" font-family="Liberation Sans" font-size="12.5" font-weight="normal" font-style="normal" fill="#e8357a" text-anchor="start" textLength="60" lengthAdjust="spacingAndGlyphs" stroke="#e8357a" stroke-width="0.6" letter-spacing="1">MISSION</text>
<text x="449" y="536.8" font-family="Liberation Sans" font-size="14" font-weight="normal" font-style="normal" fill="#20265a" text-anchor="start" textLength="478.5" lengthAdjust="spacingAndGlyphs" stroke="#20265a" stroke-width="0.35">Aider à reconstruire un entourage bienveillant autour des personnes sans-abris, sur lequel</text>
<text x="449" y="556.7" font-family="Liberation Sans" font-size="14" font-weight="normal" font-style="normal" fill="#20265a" text-anchor="start" textLength="557" lengthAdjust="spacingAndGlyphs" stroke="#20265a" stroke-width="0.35">ils peuvent s’appuyer pour retrouver confiance, estime de soi et ainsi retrouver leur place dans la société.</text>
<text x="337.5" y="634" font-family="Liberation Serif" font-size="16.5" font-weight="bold" font-style="normal" fill="#fff" text-anchor="start" textLength="76.5" lengthAdjust="spacingAndGlyphs" letter-spacing="1.3">CONSTAT</text>
<text x="337" y="1085.7" font-family="Liberation Serif" font-size="16.5" font-weight="bold" font-style="normal" fill="#fff" text-anchor="start" textLength="75.5" lengthAdjust="spacingAndGlyphs" letter-spacing="1.3">RÉPONSE</text>
<text x="221.7" y="717" font-family="Liberation Sans" font-size="11.3" font-weight="bold" font-style="normal" fill="#141a4a" text-anchor="start" textLength="94.2" lengthAdjust="spacingAndGlyphs" stroke="#141a4a" stroke-width="0.25" letter-spacing="0.3">UNE NÉCESSITÉ</text>
<text x="193.5" y="738" font-family="Liberation Sans" font-size="11.3" font-weight="bold" font-style="normal" fill="#141a4a" text-anchor="start" textLength="150.0" lengthAdjust="spacingAndGlyphs" stroke="#141a4a" stroke-width="0.25" letter-spacing="0.3">DE MIEUX COMPRENDRE</text>
<text x="211.29999999999998" y="759" font-family="Liberation Sans" font-size="11.3" font-weight="bold" font-style="normal" fill="#141a4a" text-anchor="start" textLength="114.9" lengthAdjust="spacingAndGlyphs" stroke="#141a4a" stroke-width="0.25" letter-spacing="0.3">LES BÉNÉFICIAIRES</text>
<text x="212.5" y="780.7" font-family="Liberation Sans" font-size="11.3" font-weight="bold" font-style="normal" fill="#141a4a" text-anchor="start" textLength="113.3" lengthAdjust="spacingAndGlyphs" stroke="#141a4a" stroke-width="0.25" letter-spacing="0.3">POUR MIEUX AGIR</text>
<text x="449" y="732.5" font-family="Liberation Sans" font-size="14" font-weight="normal" font-style="normal" fill="#20265a" text-anchor="start" textLength="446.2" lengthAdjust="spacingAndGlyphs" stroke="#20265a" stroke-width="0.35">Les bénéficiaires des actions de l’association sont des personnes vivant dans la rue.</text>
<text x="449" y="752" font-family="Liberation Sans" font-size="14" font-weight="normal" font-style="normal" fill="#20265a" text-anchor="start" textLength="458.5" lengthAdjust="spacingAndGlyphs" stroke="#20265a" stroke-width="0.35">En effet, l’association lutte contre l’isolement et l’exclusion sociale des personnes SDF.</text>
<text x="449" y="771.5" font-family="Liberation Sans" font-size="14" font-weight="normal" font-style="normal" fill="#20265a" text-anchor="start" textLength="517.2" lengthAdjust="spacingAndGlyphs" stroke="#20265a" stroke-width="0.35">Cependant, Il est difficile d’appréhender la réalité de la rue pour quelqu’un qui ne l’a jamais vécue</text>
<text x="449" y="790.8" font-family="Liberation Sans" font-size="14" font-weight="normal" font-style="normal" fill="#20265a" text-anchor="start" textLength="356.2" lengthAdjust="spacingAndGlyphs" stroke="#20265a" stroke-width="0.35">y compris pour les équipes bénévoles et salariées de l’association..</text>
<text x="447.5" y="867.9" font-family="Liberation Sans" font-size="12" font-weight="bold" font-style="normal" fill="#141a4a" text-anchor="start" textLength="60" lengthAdjust="spacingAndGlyphs">BESOINS</text>
<text x="173.39999999999998" y="947.7" font-family="Liberation Sans" font-size="10.5" font-weight="bold" font-style="normal" fill="#141a4a" text-anchor="start" textLength="60.5" lengthAdjust="spacingAndGlyphs">Identifier</text>
<text x="152.39999999999998" y="966.8" font-family="Liberation Sans" font-size="10.5" font-weight="bold" font-style="normal" fill="#141a4a" text-anchor="start" textLength="103.4" lengthAdjust="spacingAndGlyphs">les besoins réels</text>
<text x="158.0" y="986.8" font-family="Liberation Sans" font-size="14" font-weight="normal" font-style="normal" fill="#20265a" text-anchor="start" textLength="91.1" lengthAdjust="spacingAndGlyphs" stroke="#20265a" stroke-width="0.35">des bénéficiaires</text>
<text x="351.7" y="947.7" font-family="Liberation Sans" font-size="10.5" font-weight="bold" font-style="normal" fill="#141a4a" text-anchor="start" textLength="67.2" lengthAdjust="spacingAndGlyphs">Construire</text>
<text x="343.2" y="966.8" font-family="Liberation Sans" font-size="10.5" font-weight="bold" font-style="normal" fill="#141a4a" text-anchor="start" textLength="83.8" lengthAdjust="spacingAndGlyphs">des solutions</text>
<text x="360.7" y="986.8" font-family="Liberation Sans" font-size="14" font-weight="normal" font-style="normal" fill="#20265a" text-anchor="start" textLength="49.2" lengthAdjust="spacingAndGlyphs" stroke="#20265a" stroke-width="0.35">adaptées</text>
<text x="505.7" y="947.7" font-family="Liberation Sans" font-size="10.5" font-weight="bold" font-style="normal" fill="#141a4a" text-anchor="start" textLength="121.7" lengthAdjust="spacingAndGlyphs">Sortir d’un système</text>
<text x="534.7" y="966.8" font-family="Liberation Sans" font-size="10.5" font-weight="bold" font-style="normal" fill="#141a4a" text-anchor="start" textLength="64.2" lengthAdjust="spacingAndGlyphs">purement</text>
<text x="513.0" y="986.8" font-family="Liberation Sans" font-size="10.5" font-weight="bold" font-style="normal" fill="#141a4a" text-anchor="start" textLength="106.2" lengthAdjust="spacingAndGlyphs">« aidant - aidé »</text>
<text x="700.0" y="947.7" font-family="Liberation Sans" font-size="10.5" font-weight="bold" font-style="normal" fill="#141a4a" text-anchor="start" textLength="94.9" lengthAdjust="spacingAndGlyphs">Ne plus penser</text>
<text x="730.0" y="966.8" font-family="Liberation Sans" font-size="10.5" font-weight="bold" font-style="normal" fill="#141a4a" text-anchor="start" textLength="35.8" lengthAdjust="spacingAndGlyphs">POUR</text>
<text x="714.6" y="986.8" font-family="Liberation Sans" font-size="10.5" font-weight="bold" font-style="normal" fill="#141a4a" text-anchor="start" textLength="67.2" lengthAdjust="spacingAndGlyphs">mais AVEC</text>
<text x="870.2" y="947.7" font-family="Liberation Sans" font-size="10.5" font-weight="bold" font-style="normal" fill="#141a4a" text-anchor="start" textLength="117.7" lengthAdjust="spacingAndGlyphs">Être en cohérence</text>
<text x="878.3000000000001" y="966.8" font-family="Liberation Sans" font-size="10.5" font-weight="bold" font-style="normal" fill="#141a4a" text-anchor="start" textLength="102.8" lengthAdjust="spacingAndGlyphs">avec les valeurs</text>
<text x="854.3000000000001" y="986.8" font-family="Liberation Sans" font-size="10.5" font-weight="bold" font-style="normal" fill="#141a4a" text-anchor="start" textLength="76.4" lengthAdjust="spacingAndGlyphs">d’ouverture</text>
<text x="933.4000000000001" y="986.8" font-family="Liberation Sans" font-size="14" font-weight="normal" font-style="normal" fill="#20265a" text-anchor="start" textLength="70.9" lengthAdjust="spacingAndGlyphs" stroke="#20265a" stroke-width="0.35">et d’inclusion</text>
<text x="863.5" y="1005.2" font-family="Liberation Sans" font-size="14" font-weight="normal" font-style="normal" fill="#20265a" text-anchor="start" textLength="131.8" lengthAdjust="spacingAndGlyphs" stroke="#20265a" stroke-width="0.35">prônées par l’association</text>
<text x="204.3" y="910.7" font-family="Liberation Sans" font-size="16.5" font-weight="bold" font-style="normal" fill="#141a4a" text-anchor="middle">1</text>
<text x="384.5" y="910.7" font-family="Liberation Sans" font-size="16.5" font-weight="bold" font-style="normal" fill="#141a4a" text-anchor="middle">2</text>
<text x="569" y="910.7" font-family="Liberation Sans" font-size="16.5" font-weight="bold" font-style="normal" fill="#141a4a" text-anchor="middle">3</text>
<text x="749.5" y="910.7" font-family="Liberation Sans" font-size="16.5" font-weight="bold" font-style="normal" fill="#141a4a" text-anchor="middle">4</text>
<text x="929.3" y="910.7" font-family="Liberation Sans" font-size="16.5" font-weight="bold" font-style="normal" fill="#141a4a" text-anchor="middle">5</text>
<text x="205.3" y="1143.4" font-family="Liberation Sans" font-size="12.5" font-weight="bold" font-style="normal" fill="#141a4a" text-anchor="start" textLength="142" lengthAdjust="spacingAndGlyphs">Un comité de la rue</text>
<text x="424.8" y="1143" font-family="Liberation Sans" font-size="12.5" font-weight="normal" font-style="normal" fill="#e8357a" text-anchor="start" textLength="167.5" lengthAdjust="spacingAndGlyphs" stroke="#e8357a" stroke-width="0.6" letter-spacing="0.5">Instance décisionnaire</text>
<text x="425" y="1162" font-family="Liberation Sans" font-size="13" font-weight="bold" font-style="normal" fill="#e8357a" text-anchor="start">-</text>
<text x="431.9" y="1162" font-family="Liberation Sans" font-size="14" font-weight="bold" font-style="normal" fill="#141a4a" text-anchor="start" textLength="50.9" lengthAdjust="spacingAndGlyphs">associée</text>
<text x="484.9" y="1162" font-family="Liberation Sans" font-size="14" font-weight="normal" font-style="normal" fill="#20265a" text-anchor="start" textLength="205.4" lengthAdjust="spacingAndGlyphs" stroke="#20265a" stroke-width="0.35">à la mise en œuvre du projet associatif</text>
<text x="425" y="1182" font-family="Liberation Sans" font-size="13" font-weight="bold" font-style="normal" fill="#e8357a" text-anchor="start">-</text>
<text x="431.9" y="1182" font-family="Liberation Sans" font-size="14" font-weight="bold" font-style="normal" fill="#141a4a" text-anchor="start" textLength="148.2" lengthAdjust="spacingAndGlyphs">composée de 9 personnes</text>
<text x="582.4000000000001" y="1182" font-family="Liberation Sans" font-size="14" font-weight="normal" font-style="normal" fill="#20265a" text-anchor="start" textLength="189.9" lengthAdjust="spacingAndGlyphs" stroke="#20265a" stroke-width="0.35">actuellement ou anciennement SDF</text>
<text x="425" y="1201.8" font-family="Liberation Sans" font-size="13" font-weight="bold" font-style="normal" fill="#e8357a" text-anchor="start">-</text>
<text x="431.9" y="1201.8" font-family="Liberation Sans" font-size="14" font-weight="bold" font-style="normal" fill="#141a4a" text-anchor="start" textLength="141.3" lengthAdjust="spacingAndGlyphs">guidant l’équipe salariée</text>
<text x="575.7" y="1201.8" font-family="Liberation Sans" font-size="14" font-weight="normal" font-style="normal" fill="#20265a" text-anchor="start" textLength="171.2" lengthAdjust="spacingAndGlyphs" stroke="#20265a" stroke-width="0.35">dans ses choix, aide à concevoir</text>
<text x="431.9" y="1220.8" font-family="Liberation Sans" font-size="14" font-weight="normal" font-style="normal" fill="#20265a" text-anchor="start" textLength="396.4" lengthAdjust="spacingAndGlyphs" stroke="#20265a" stroke-width="0.35">et animer les actions de sensibilisation, est garante du respect de l’éthique</text>
<text x="767.5" y="1426.5" font-family="Liberation Serif" font-size="11.5" font-weight="normal" font-style="italic" fill="#141a4a" text-anchor="start" textLength="218" lengthAdjust="spacingAndGlyphs" stroke="#141a4a" stroke-width="0.35">Sa mise en œuvre, son bilan &amp; son analyse</text>
</svg>
</body></html>
